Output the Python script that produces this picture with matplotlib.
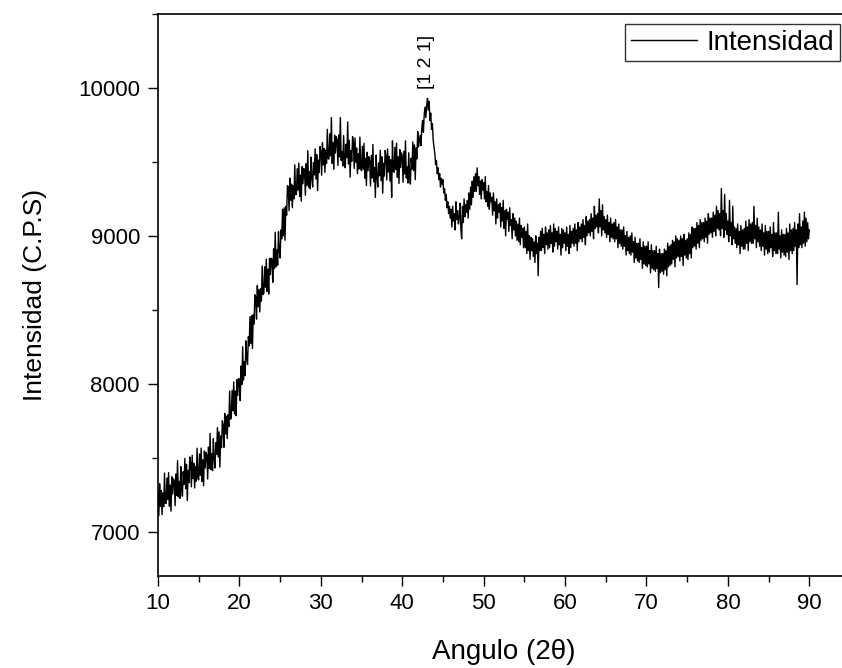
import numpy as np
import matplotlib
matplotlib.use("Agg")
import matplotlib.pyplot as plt
from matplotlib.ticker import MultipleLocator

plt.rcParams['font.family'] = ['Liberation Sans', 'DejaVu Sans']

# 2-theta from 10 to 90 in 0.1 degree steps (one row per degree)
angle_start = 10.0
angle_step = 0.1
intensity = [
    7270, 7107, 7324, 7171, 7278, 7115, 7262, 7169, 7396, 7193,
    7190, 7363, 7216, 7399, 7172, 7315, 7138, 7371, 7254, 7357,
    7340, 7175, 7390, 7245, 7480, 7235, 7340, 7225, 7440, 7295,
    7240, 7405, 7320, 7495, 7290, 7455, 7210, 7415, 7330, 7505,
    7470, 7303, 7516, 7359, 7462, 7295, 7438, 7341, 7564, 7357,
    7350, 7525, 7380, 7565, 7340, 7485, 7310, 7545, 7430, 7535,
    7520, 7356, 7572, 7428, 7664, 7420, 7526, 7412, 7628, 7484,
    7430, 7601, 7522, 7703, 7504, 7675, 7436, 7647, 7568, 7749,
    7720, 7570, 7800, 7660, 7780, 7630, 7790, 7710, 7950, 7760,
    7770, 7954, 7818, 8012, 7796, 7950, 7784, 8028, 7922, 8036,
    8030, 7885, 8120, 7995, 8250, 8025, 8150, 8055, 8290, 8165,
    8130, 8318, 8256, 8454, 8272, 8460, 8238, 8466, 8404, 8602,
    8590, 8437, 8664, 8521, 8638, 8485, 8642, 8559, 8796, 8603,
    8610, 8791, 8652, 8843, 8624, 8775, 8606, 8847, 8738, 8849,
    8840, 8686, 8912, 8778, 9024, 8790, 8906, 8802, 9028, 8894,
    8850, 9040, 8980, 9180, 9000, 9190, 8970, 9200, 9140, 9340,
    9330, 9170, 9390, 9240, 9350, 9190, 9340, 9250, 9480, 9280,
    9280, 9454, 9308, 9492, 9266, 9410, 9234, 9468, 9352, 9456,
    9440, 9274, 9488, 9342, 9576, 9330, 9434, 9318, 9532, 9386,
    9330, 9496, 9412, 9588, 9384, 9550, 9306, 9512, 9428, 9604,
    9570, 9410, 9630, 9480, 9590, 9430, 9580, 9490, 9720, 9520,
    9520, 9690, 9540, 9800, 9490, 9630, 9450, 9680, 9560, 9670,
    9650, 9476, 9682, 9534, 9800, 9510, 9570, 9472, 9678, 9524,
    9460, 9619, 9528, 9770, 9486, 9645, 9396, 9576, 9504, 9671,
    9630, 9456, 9662, 9498, 9594, 9420, 9556, 9452, 9668, 9454,
    9440, 9605, 9450, 9625, 9390, 9525, 9340, 9565, 9440, 9535,
    9510, 9337, 9544, 9391, 9618, 9365, 9462, 9260, 9546, 9393,
    9330, 9493, 9406, 9579, 9372, 9535, 9288, 9491, 9404, 9577,
    9540, 9378, 9588, 9432, 9536, 9370, 9514, 9260, 9642, 9436,
    9430, 9599, 9448, 9627, 9396, 9535, 9354, 9583, 9462, 9561,
    9540, 9362, 9572, 9418, 9642, 9390, 9466, 9357, 9562, 9414,
    9350, 9525, 9450, 9635, 9440, 9615, 9380, 9595, 9520, 9705,
    9600, 9640, 9680, 9610, 9730, 9780, 9700, 9820, 9870, 9800,
    9880, 9930, 9850, 9910, 9780, 9830, 9720, 9760, 9650, 9600,
    9560, 9480, 9510, 9420, 9460, 9380, 9420, 9330, 9390, 9350,
    9380, 9290, 9320, 9240, 9280, 9190, 9230, 9150, 9200, 9120,
    9180, 9060, 9200, 9100, 9150, 9040, 9230, 9110, 9170, 9080,
    9120, 9220, 9050, 8980, 9200, 9090, 9250, 9130, 9210, 9160,
    9240, 9120, 9290, 9180, 9330, 9210, 9370, 9260, 9400, 9300,
    9420, 9300, 9460, 9340, 9400, 9280, 9370, 9250, 9380, 9310,
    9360, 9250, 9400, 9230, 9300, 9200, 9340, 9180, 9290, 9230,
    9260, 9140, 9290, 9170, 9230, 9080, 9250, 9120, 9210, 9160,
    9220, 9060, 9190, 9100, 9240, 9050, 9170, 9000, 9180, 9110,
    9160, 9030, 9190, 9070, 9110, 8980, 9150, 9040, 9120, 9000,
    9100, 8970, 9080, 8960, 9120, 8940, 9070, 8990, 9050, 8920,
    9060, 8920, 9030, 8880, 9080, 8900, 9000, 8840, 8990, 8900,
    8980, 8860, 8960, 8820, 9000, 8880, 8950, 8730, 8990, 8900,
    9030, 8900, 9050, 8920, 9010, 8880, 9060, 8940, 9020, 8910,
    9040, 8920, 9070, 8950, 9020, 8890, 9080, 8930, 9050, 8960,
    9030, 8910, 9060, 8940, 9010, 8870, 9050, 8920, 9040, 8950,
    9020, 8900, 9060, 8930, 9010, 8880, 9070, 8920, 9030, 8950,
    9050, 8930, 9080, 8950, 9040, 8900, 9090, 8960, 9060, 8980,
    9080, 8960, 9110, 8990, 9070, 8940, 9130, 9000, 9100, 9020,
    9110, 9000, 9150, 9030, 9120, 8980, 9200, 9050, 9140, 9060,
    9150, 9020, 9250, 9060, 9170, 9000, 9210, 9040, 9130, 9020,
    9110, 8990, 9140, 9010, 9090, 8960, 9120, 8990, 9080, 8980,
    9090, 8960, 9110, 8980, 9060, 8920, 9080, 8950, 9040, 8930,
    9040, 8910, 9060, 8930, 9000, 8870, 9030, 8900, 8990, 8880,
    9000, 8870, 9020, 8890, 8960, 8820, 8990, 8850, 8950, 8830,
    8950, 8820, 8980, 8840, 8920, 8780, 8960, 8810, 8930, 8800,
    8930, 8790, 8960, 8810, 8900, 8750, 8940, 8780, 8900, 8770,
    8900, 8760, 8930, 8780, 8880, 8650, 8910, 8750, 8880, 8760,
    8880, 8740, 8910, 8770, 8900, 8730, 8950, 8790, 8930, 8800,
    8940, 8810, 8970, 8840, 8960, 8790, 9000, 8850, 8980, 8860,
    8970, 8830, 9000, 8860, 8980, 8800, 9010, 8870, 8970, 8850,
    8980, 8840, 9020, 8880, 9010, 8850, 9060, 8920, 9050, 8930,
    9050, 8910, 9090, 8950, 9070, 8920, 9110, 8970, 9090, 8980,
    9090, 8960, 9120, 8990, 9100, 8950, 9150, 9010, 9120, 9020,
    9120, 8990, 9160, 9030, 9140, 9000, 9200, 9050, 9170, 9040,
    9150, 9000, 9320, 9050, 9170, 8990, 9280, 9040, 9150, 9010,
    9100, 8960, 9240, 9000, 9090, 8940, 9200, 8980, 9060, 8950,
    9050, 8920, 9080, 8940, 9030, 8880, 9070, 8930, 9040, 8910,
    9050, 8910, 9100, 8950, 9060, 8900, 9110, 8960, 9080, 8950,
    9090, 8950, 9200, 8980, 9070, 8920, 9120, 8960, 9060, 8930,
    9040, 8900, 9080, 8930, 9020, 8870, 9070, 8910, 9030, 8880,
    9030, 8890, 9060, 8920, 9010, 8860, 9090, 8900, 9020, 8880,
    9020, 8880, 9160, 8910, 9000, 8850, 9040, 8890, 9010, 8870,
    9010, 8860, 9050, 8890, 9020, 8840, 9080, 8900, 9040, 8880,
    9050, 8900, 9090, 8930, 9040, 8670, 9080, 8920, 9150, 8940,
    9060, 8920, 9100, 8950, 9160, 8930, 9120, 8960, 9090, 8980,
    9040,
]
angle = angle_start + angle_step * np.arange(len(intensity))

peak_label = "[1 2 1]"
peak_pos = (43.0, 10175)
xlabel = "Angulo (2θ)"
ylabel = "Intensidad (C.P.S)"
series_name = "Intensidad"

fig = plt.figure(figsize=(8.42, 6.68), dpi=100)
ax = fig.add_axes([158/842, 92/668, 692/842, 562/668])
ax.plot(angle, intensity, color='black', lw=1.0, label=series_name)

ax.set_xlim(10, 95)
ax.set_ylim(6700, 10500)
ax.xaxis.set_major_locator(MultipleLocator(10))
ax.xaxis.set_minor_locator(MultipleLocator(5))
ax.yaxis.set_major_locator(MultipleLocator(1000))
ax.yaxis.set_minor_locator(MultipleLocator(500))
ax.tick_params(which='major', direction='out', length=7, width=1, labelsize=16, top=False, right=False)
ax.tick_params(which='minor', direction='out', length=4, width=1, top=False, right=False)
ax.tick_params(axis='x', pad=5)
ax.tick_params(axis='y', pad=6)
for s in ax.spines.values():
    s.set_linewidth(1.2)

ax.set_xlabel(xlabel, fontsize=20, labelpad=18)
ax.set_ylabel(ylabel, fontsize=19, labelpad=22)

ax.text(peak_pos[0], peak_pos[1], peak_label, rotation=90, ha='center', va='center', fontsize=14)

leg = ax.legend(loc='upper left', bbox_to_anchor=(625/842, 1 - 24/668), bbox_transform=fig.transFigure,
                fontsize=20, frameon=True, fancybox=False, handlelength=2.4, borderpad=0.2,
                handletextpad=0.35, borderaxespad=0)
leg.get_frame().set_edgecolor('black')
leg.get_frame().set_linewidth(1.0)

fig.savefig("out.png", dpi=100)
